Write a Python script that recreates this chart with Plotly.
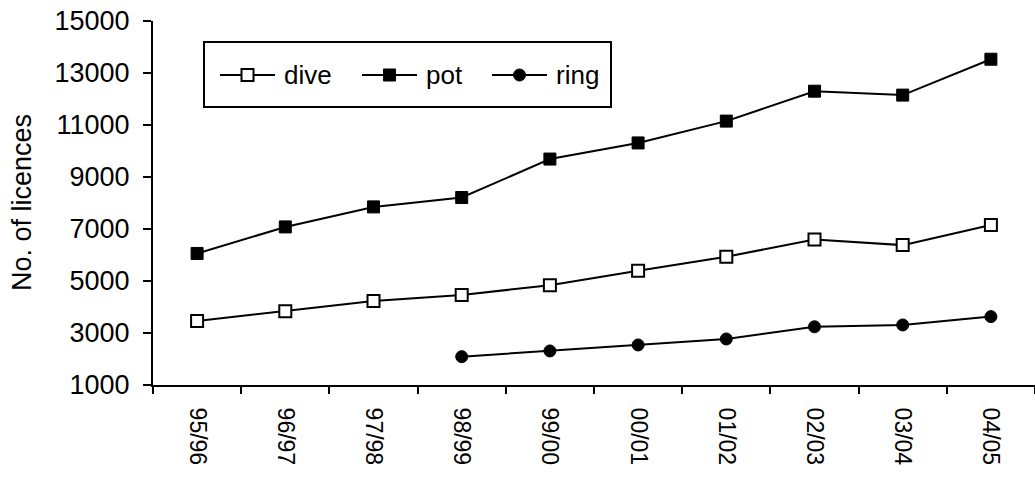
import plotly.graph_objects as go

# Licence counts by season
seasons = ["95/96", "96/97", "97/98", "98/99", "99/00",
           "00/01", "01/02", "02/03", "03/04", "04/05"]
dive = [3460, 3840, 4230, 4460, 4840, 5390, 5930, 6600, 6380, 7150]
pot = [6060, 7080, 7850, 8210, 9690, 10310, 11150, 12300, 12150, 13530]
ring = [None, None, None, 2090, 2310, 2540, 2770, 3240, 3310, 3630]

y_ticks = [1000, 3000, 5000, 7000, 9000, 11000, 13000, 15000]

FONT = "Liberation Sans, Arial, sans-serif"

markers = {
    "dive": dict(symbol="square", color="white", size=12,
                 line=dict(color="black", width=2)),
    "pot": dict(symbol="square", color="black", size=12,
                line=dict(color="black", width=1)),
    "ring": dict(symbol="circle", color="black", size=12,
                 line=dict(color="black", width=1)),
}

fig = go.Figure()

for name, vals in [("dive", dive), ("pot", pot), ("ring", ring)]:
    fig.add_trace(go.Scatter(
        x=seasons, y=vals, name=name, mode="lines+markers",
        line=dict(color="black", width=2),
        marker=markers[name],
        connectgaps=False, showlegend=False,
    ))

# Legend key drawn on a pixel-scaled overlay axis
key_left = {"dive": 220, "pot": 362, "ring": 492}
key_len = 55
key_y = 75
for name, x0 in key_left.items():
    fig.add_trace(go.Scatter(
        x=[x0, x0 + key_len], y=[key_y, key_y], mode="lines",
        line=dict(color="black", width=2), xaxis="x2", yaxis="y2",
        showlegend=False, hoverinfo="skip",
    ))
    fig.add_trace(go.Scatter(
        x=[x0 + key_len / 2], y=[key_y], mode="markers",
        marker=markers[name], xaxis="x2", yaxis="y2",
        showlegend=False, hoverinfo="skip",
    ))
    fig.add_annotation(text=name, x=x0 + key_len + 7, y=key_y,
                       xref="x2", yref="y2", xanchor="left",
                       yanchor="middle", showarrow=False,
                       font=dict(family=FONT, size=26, color="black"))

# Legend frame
fig.add_shape(type="rect", xref="x2", yref="y2",
              x0=204, x1=611, y0=42, y1=107,
              line=dict(color="black", width=2), fillcolor="rgba(0,0,0,0)")

# Vertical axis title
fig.add_annotation(text="No. of licences", xref="paper", yref="paper",
                   x=-0.1485, y=0.5, textangle=-90, showarrow=False,
                   xanchor="center", yanchor="middle",
                   font=dict(family=FONT, size=27, color="black"))

fig.update_layout(
    width=1035, height=480,
    margin=dict(l=153, r=0, t=21, b=95, autoexpand=False),
    paper_bgcolor="white", plot_bgcolor="white",
    font=dict(family=FONT, color="black"),
    showlegend=False,
    xaxis=dict(
        type="category", range=[-0.5, 9.5],
        showline=True, linecolor="black", linewidth=2,
        ticks="outside", tickson="boundaries", ticklen=7,
        tickwidth=2, tickcolor="black",
        tickangle=90, tickfont=dict(family=FONT, size=23, color="black"),
        showgrid=False, zeroline=False, fixedrange=True,
        ticklabelstandoff=16,
    ),
    yaxis=dict(
        range=[1000, 15000], tickvals=y_ticks,
        ticktext=[str(v) for v in y_ticks],
        showline=True, linecolor="black", linewidth=2,
        ticks="outside", ticklen=8, tickwidth=2, tickcolor="black",
        tickfont=dict(family=FONT, size=27, color="black"),
        showgrid=False, zeroline=False, fixedrange=True,
        ticklabelstandoff=8,
    ),
    xaxis2=dict(overlaying="x", range=[153, 1035], visible=False,
                fixedrange=True, anchor="y2"),
    yaxis2=dict(overlaying="y", range=[385, 21], visible=False,
                fixedrange=True, anchor="x2"),
)

fig.write_html("out.html")
